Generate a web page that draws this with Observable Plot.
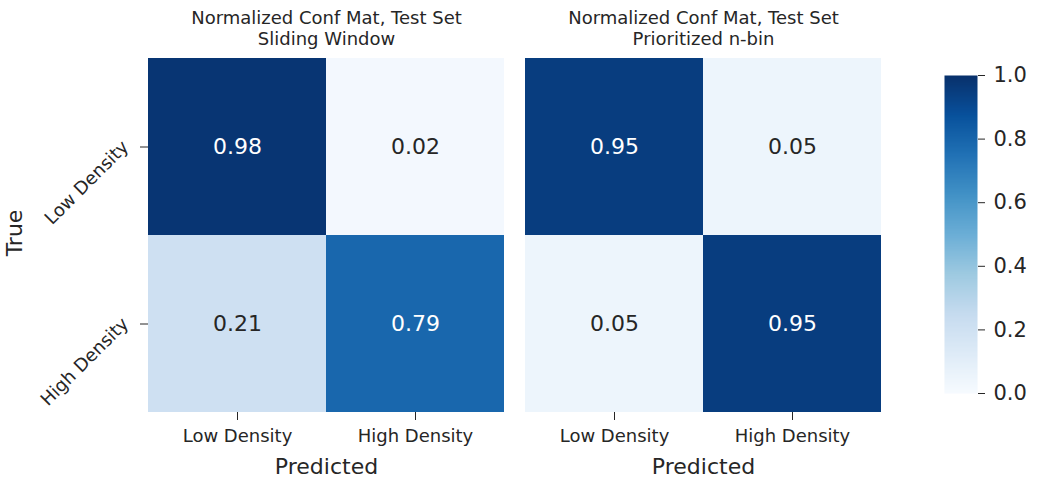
<!DOCTYPE html>
<html><head><meta charset="utf-8">
<script src="https://cdn.jsdelivr.net/npm/d3@7"></script>
<script src="https://cdn.jsdelivr.net/npm/@observablehq/plot@0.6"></script>
<style>
body{margin:0;background:#fff;}
#chart{position:relative;width:1039px;height:479px;overflow:hidden;font-family:"DejaVu Sans",sans-serif;}
#chart svg{position:absolute;top:0;}
</style></head><body><div id="chart"></div>
<script>
const classes = ["Low Density", "High Density"];
const panelTitles = ["Normalized Conf Mat, Test Set\nSliding Window", "Normalized Conf Mat, Test Set\nPrioritized n-bin"];
const slidingWindow = [[0.98, 0.02], [0.21, 0.79]];
const prioritizedNbin = [[0.95, 0.05], [0.05, 0.95]];
const colorbarTicks = [0, 0.2, 0.4, 0.6, 0.8, 1.0];
const xLabel = "Predicted";
const yLabel = "True";
const bluesStops = ["#f7fbff","#deebf7","#c6dbef","#9ecae1","#6baed6","#4292c6","#2171b5","#08519c","#08306b"];

const colorScale = {type: "linear", domain: bluesStops.map((_, i) => i / (bluesStops.length - 1)), range: bluesStops, interpolate: "rgb"};
const FONT = "DejaVu Sans";
const INK = "#262626";

function toTable(m) {
  const out = [];
  m.forEach((row, i) => row.forEach((v, j) => out.push({truth: classes[i], predicted: classes[j], value: v})));
  return out;
}

function panel(matrix, title, showY, left, width, marginLeft) {
  const data = toTable(matrix);
  const marks = [
    Plot.cell(data, {x: "predicted", y: "truth", fill: "value", inset: 0}),
    Plot.text(data, {filter: d => d.value > 0.5, x: "predicted", y: "truth", text: d => d.value.toFixed(2), fill: "white", fontSize: 22}),
    Plot.text(data, {filter: d => d.value <= 0.5, x: "predicted", y: "truth", text: d => d.value.toFixed(2), fill: INK, fontSize: 22}),
    Plot.axisX({tickSize: 8, tickPadding: 9, fontSize: 18, label: null, color: INK}),
    Plot.text([title], {frameAnchor: "top", dy: -29.5, lineAnchor: "middle", textAnchor: "middle", fontSize: 18, lineHeight: 1.17, fill: INK}),
    Plot.text([xLabel], {frameAnchor: "bottom", dy: 54, lineAnchor: "middle", textAnchor: "middle", fontSize: 22, fill: INK})
  ];
  if (showY) {
    marks.push(Plot.axisY({tickSize: 8, tickFormat: () => "", label: null, color: INK}));
    marks.push(Plot.axisY({tickSize: 0, tickPadding: 23, tickRotate: -45, fontSize: 18, label: null, color: INK, dy: -3}));
    marks.push(Plot.text([yLabel], {frameAnchor: "left", dx: -134, dy: -2, rotate: -90, textAnchor: "middle", lineAnchor: "middle", fontSize: 22, fill: INK}));
  }
  const svg = Plot.plot({
    width, height: 479,
    marginLeft, marginRight: 0, marginTop: 57, marginBottom: 67,
    x: {domain: classes, padding: 0},
    y: {domain: classes, padding: 0, axis: showY ? undefined : null},
    color: colorScale,
    style: {fontFamily: FONT, background: "transparent", overflow: "visible"},
    marks
  });
  svg.style.left = left + "px";
  return svg;
}

const chart = document.getElementById("chart");
chart.appendChild(panel(slidingWindow, panelTitles[0], true, 0, 504, 148));
chart.appendChild(panel(prioritizedNbin, panelTitles[1], false, 505, 376, 20));

const cbMarks = [];
if (typeof Plot.raster === "function") {
  cbMarks.push(Plot.raster({x1: 0, x2: 1, y1: 0, y2: 1, fill: (x, y) => y, width: 1, height: 256}));
}
cbMarks.push(Plot.axisY({anchor: "right", ticks: colorbarTicks, tickFormat: d => d.toFixed(1), tickSize: 7, tickPadding: 9, fontSize: 21, label: null, color: INK}));
const cb = Plot.plot({
  width: 139, height: 479,
  marginLeft: 44, marginRight: 62, marginTop: 75, marginBottom: 86,
  x: {domain: [0, 1], axis: null},
  y: {domain: [0, 1]},
  color: colorScale,
  style: {fontFamily: FONT, background: "transparent", overflow: "visible"},
  marks: cbMarks
});
cb.style.left = "900px";
chart.appendChild(cb);
</script></body></html>
